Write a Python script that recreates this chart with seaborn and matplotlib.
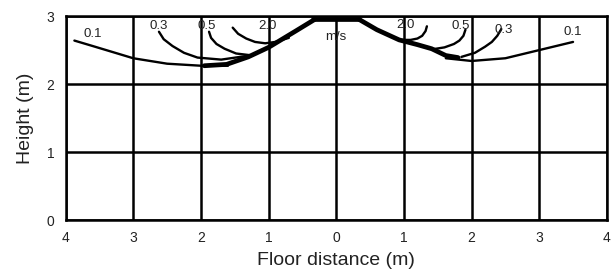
import matplotlib as mpl
mpl.use('Agg')
import matplotlib.pyplot as plt
import seaborn as sns

# velocity contours (m/s) under a ceiling diffuser, x = floor distance, y = height
left_01_x = [-3.87, -3.6, -3.3, -3.0, -2.5, -2.0, -1.6]
left_01_y = [2.64, 2.56, 2.47, 2.38, 2.30, 2.27, 2.27]
left_03_x = [-2.62, -2.55, -2.42, -2.25, -2.05, -1.7, -1.28]
left_03_y = [2.77, 2.66, 2.56, 2.46, 2.39, 2.36, 2.42]
left_05_x = [-1.88, -1.85, -1.77, -1.65, -1.48, -1.23]
left_05_y = [2.77, 2.68, 2.59, 2.52, 2.45, 2.42]
left_20_x = [-1.53, -1.45, -1.33, -1.2, -1.05, -0.9, -0.7]
left_20_y = [2.83, 2.74, 2.67, 2.62, 2.60, 2.62, 2.68]
left_jet_x = [-0.32, -0.6, -1.0, -1.3, -1.62, -1.95]
left_jet_y = [2.95, 2.78, 2.54, 2.40, 2.29, 2.27]

right_01_x = [3.5, 3.25, 3.0, 2.5, 2.0, 1.62]
right_01_y = [2.62, 2.56, 2.50, 2.38, 2.34, 2.38]
right_03_x = [2.44, 2.38, 2.3, 2.2, 2.05, 1.85]
right_03_y = [2.81, 2.71, 2.62, 2.55, 2.46, 2.40]
right_05_x = [1.91, 1.88, 1.82, 1.74, 1.6, 1.41]
right_05_y = [2.80, 2.71, 2.64, 2.59, 2.54, 2.51]
right_20_x = [1.34, 1.32, 1.27, 1.2, 1.1, 0.97]
right_20_y = [2.85, 2.78, 2.71, 2.67, 2.65, 2.65]
right_jet_x = [0.34, 0.6, 0.93, 1.2, 1.41, 1.62, 1.8]
right_jet_y = [2.95, 2.80, 2.65, 2.58, 2.52, 2.42, 2.39]

diffuser_x = [-0.34, 0.34]
diffuser_y = [2.96, 2.96]

labels = ["0.1", "0.3", "0.5", "2.0", "m/s", "2.0", "0.5", "0.3", "0.1"]
label_x = [-3.6, -2.62, -1.91, -1.01, 0.0, 1.02, 1.84, 2.47, 3.49]
label_y = [2.74, 2.86, 2.86, 2.86, 2.70, 2.87, 2.86, 2.80, 2.77]

xticks = [-4, -3, -2, -1, 0, 1, 2, 3, 4]
yticks = [0, 1, 2, 3]

sns.set_style("white")
plt.rcParams['font.family'] = ['Liberation Sans', 'DejaVu Sans']

fig = plt.figure(figsize=(6.13, 2.73), dpi=100)
ax = fig.add_axes([0.107, 0.194, 0.883, 0.747])

thin = [(left_01_x, left_01_y), (left_03_x, left_03_y), (left_05_x, left_05_y),
        (left_20_x, left_20_y), (right_01_x, right_01_y), (right_03_x, right_03_y),
        (right_05_x, right_05_y), (right_20_x, right_20_y)]
for xs, ys in thin:
    sns.lineplot(x=xs, y=ys, sort=False, estimator=None, color='black', lw=1.7, ax=ax)

for xs, ys in [(left_jet_x, left_jet_y), (right_jet_x, right_jet_y), (diffuser_x, diffuser_y)]:
    sns.lineplot(x=xs, y=ys, sort=False, estimator=None, color='black', lw=3.4, ax=ax)

for t, x, y in zip(labels, label_x, label_y):
    ax.text(x, y, t, ha='center', va='center', fontsize=9.5, color='#222222')

ax.set_xlim(-4, 4)
ax.set_ylim(0, 3)
ax.set_xticks(xticks)
ax.set_xticklabels([str(abs(v)) for v in xticks])
ax.set_yticks(yticks)
ax.grid(True, color='black', lw=1.8)
for s in ax.spines.values():
    s.set_color('black')
    s.set_linewidth(1.8)
ax.tick_params(axis='both', labelsize=10, length=2, pad=6, color='black', labelcolor='#222222')
ax.set_xlabel("Floor distance (m)", fontsize=14, color='#222222', labelpad=5)
ax.set_ylabel("Height (m)", fontsize=14, color='#222222', labelpad=9)

fig.savefig("out.png", dpi=100)
